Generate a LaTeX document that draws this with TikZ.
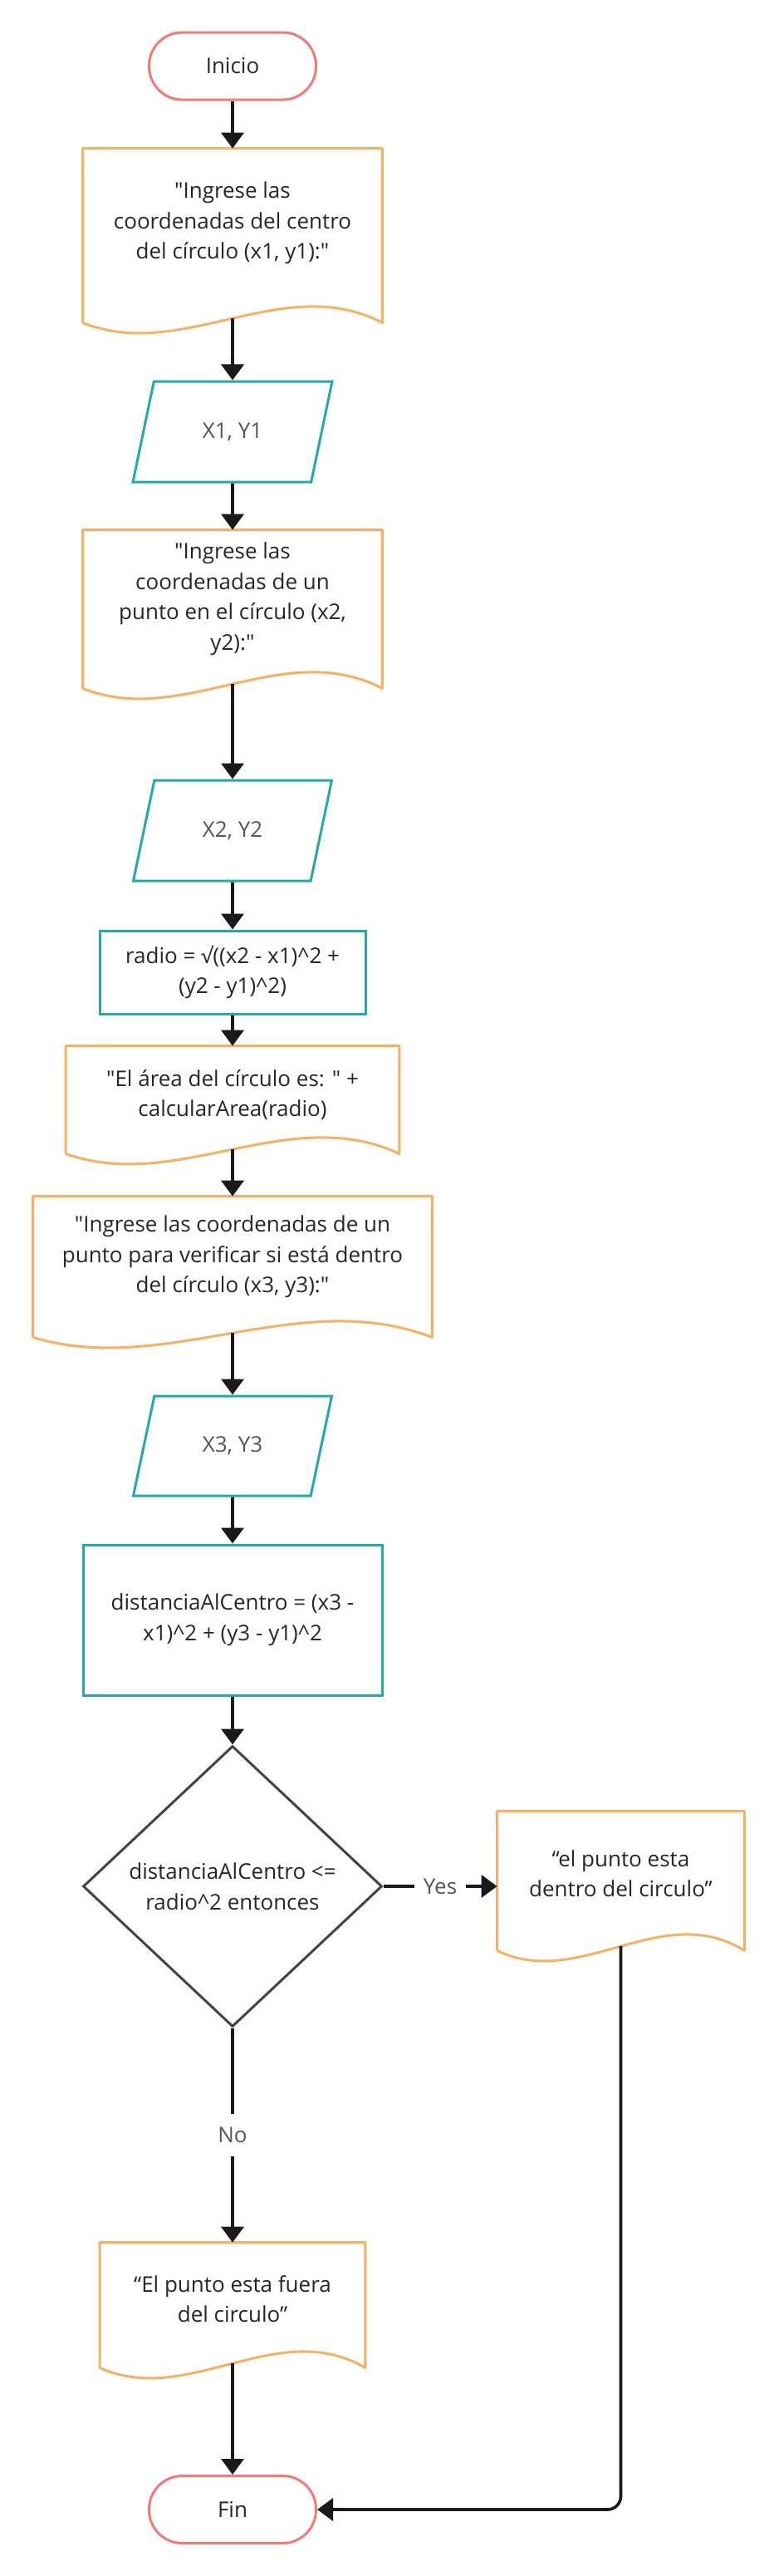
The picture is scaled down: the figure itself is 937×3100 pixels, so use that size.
\documentclass[tikz,border=0pt]{standalone}
\usepackage{fontspec}
\setmainfont{Open Sans}
\newfontfamily\chartfont{Open Sans}
\usetikzlibrary{shapes.geometric,arrows.meta,calc}

\definecolor{termred}{HTML}{F47A7A}
\definecolor{docorange}{HTML}{F8B062}
\definecolor{procteal}{HTML}{20ADA8}
\definecolor{decgray}{HTML}{444444}
\definecolor{txtdark}{HTML}{262626}
\definecolor{txtgray}{HTML}{555555}
\definecolor{flowblack}{HTML}{1A1A1A}

%% wavy bottom of a document box, plus the point where its arrow leaves
\newcommand{\docwave}[1]{%
	\draw[docline] (#1.south west)--(#1.north west)--(#1.north east)--(#1.south east)
		.. controls ($(#1.south west)!0.667!(#1.south east)+(0,31pt)$) and ($(#1.south west)!0.333!(#1.south east)+(0,-24pt)$) .. (#1.south west);
	\coordinate (#1w) at ($(#1.south)+(0,2.6pt)$);
}

\begin{document}
\begin{tikzpicture}[x=0.5pt,y=-0.5pt,
	font=\chartfont\fontsize{13}{18.3}\selectfont, text=txtdark,
	term/.style={draw=termred, line width=1.5pt, rounded corners=20pt, minimum width=100.5pt, minimum height=40.5pt},
	doc/.style={align=center, inner sep=0pt, text depth=14pt},
	docline/.style={draw=docorange, line width=1.5pt, line join=round},
	inout/.style={draw=procteal, line width=1.5pt, trapezium, trapezium left angle=72, trapezium right angle=108, trapezium stretches=true, minimum width=120pt, minimum height=60.5pt, text=txtgray},
	proc/.style={draw=procteal, line width=1.5pt, align=center, inner sep=0pt},
	dec/.style={draw=decgray, line width=1.5pt, diamond, align=center, inner sep=0pt, minimum width=180pt, minimum height=169pt},
	lbl/.style={fill=white, text=txtgray, inner xsep=5.5pt, inner ysep=8pt},
	flow/.style={draw=flowblack, line width=1.8pt, -{Triangle[length=9.5pt,width=13.5pt]}}]

		\useasboundingbox (0,0) rectangle (937,3100);

		%% main column
		\node[term] at (280,79.5)(start){Inicio};

		\node[doc, minimum width=180pt, minimum height=104.5pt, text depth=18pt] at (280,283.5)(d1){"Ingrese las\\coordenadas del centro\\del círculo (x1, y1):"};
		\docwave{d1}

		\node[inout] at (280,519.5)(in1){X1, Y1};

		\node[doc, minimum width=180pt, minimum height=95pt, text depth=15.5pt] at (280,733)(d2){"Ingrese las\\coordenadas de un\\punto en el círculo (x2,\\y2):"};
		\docwave{d2}

		\node[inout] at (280,999.5)(in2){X2, Y2};

		\node[proc, minimum width=160pt, minimum height=50pt] at (280,1170)(p1){radio = √((x2 - x1)\^{}2 +\\(y2 - y1)\^{}2)};

		\node[doc, minimum width=200.5pt, minimum height=64.5pt, text depth=8pt] at (280,1323.5)(d3){"El área del círculo es: " +\\calcularArea(radio)};
		\docwave{d3}

		\node[doc, minimum width=240pt, minimum height=84.5pt, text depth=15pt] at (280,1524.5)(d4){"Ingrese las coordenadas de un\\punto para verificar si está dentro\\del círculo (x3, y3):"};
		\docwave{d4}

		\node[inout, minimum height=60pt] at (280,1740)(in3){X3, Y3};

		\node[proc, minimum width=180pt, minimum height=90.5pt] at (280,1949.5)(p2){distanciaAlCentro = (x3 -\\x1)\^{}2 + (y3 - y1)\^{}2};

		%% decision
		\node[dec] at (280,2270)(cond){distanciaAlCentro <=\\radio\^{}2 entonces};

		\node[doc, minimum width=148.5pt, minimum height=83.5pt, text depth=9pt] at (747.5,2263.5)(d5){“el punto esta\\dentro del circulo”};
		\docwave{d5}

		\node[doc, minimum width=159.5pt, minimum height=75pt, text depth=7.5pt] at (280,2774)(d6){“El punto esta fuera\\del circulo”};
		\docwave{d6}

		\node[term] at (280,3020)(fin){Fin};

		%% connectors
		\draw[flow] (start) -- (d1);
		\draw[flow] (d1w) -- (in1);
		\draw[flow] (in1) -- (d2);
		\draw[flow] (d2w) -- (in2);
		\draw[flow] (in2) -- (p1);
		\draw[flow] (p1) -- (d3);
		\draw[flow] (d3w) -- (d4);
		\draw[flow] (d4w) -- (in3);
		\draw[flow] (in3) -- (p2);
		\draw[flow] (p2) -- (cond);

		\draw[flow] (cond.east) -- node[lbl]{Yes} (cond.east -| d5.west);
		\draw[flow] (cond.south) -- node[lbl]{No} (cond.south |- d6.north);
		\draw[flow] (d6w) -- (fin);
		\draw[flow, rounded corners=8pt] (d5w) |- (fin.east);
\end{tikzpicture}
\end{document}
